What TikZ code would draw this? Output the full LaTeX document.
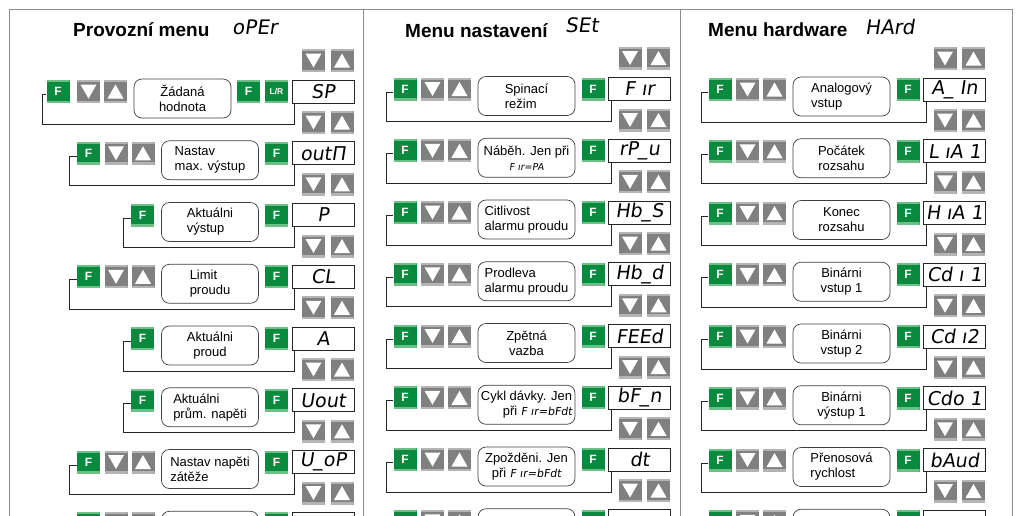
\documentclass[tikz,border=0pt]{standalone}
\usepackage{fontspec}
\setmainfont{Liberation Sans}
\newfontfamily\segfont[FakeSlant=0.15]{DejaVu Sans}
\definecolor{fgreen}{RGB}{10,138,62}
\definecolor{fgreenl}{RGB}{110,190,135}
\definecolor{bgray}{RGB}{128,128,128}
\definecolor{bgrayl}{RGB}{180,180,180}
\newcommand\segsm{\segfont\fontsize{9.5}{15}\selectfont}
\newcommand\segsmb{\segfont\fontsize{11}{15}\selectfont}
\newcommand\menurowA[6]{%
  \node[fbtn] (#1fl) at ({#2+88.5},#3) {F};
  \node[dnbtn] (#1d) at ({#2+116},#3) {};
  \node[upbtn] (#1u) at ({#2+143},#3) {};
  \node[lbl,#4] (#1l) at ({#2+210},{#3+7}) {#5};
  \node[fbtn] (#1fr) at ({#2+276.5},#3) {F};
  \node[disp] (#1s) at ({#2+323},#3) {#6};
  \draw[conn] ([yshift=-3pt]#1fl.west) -- ++(-7,0) -- ++(0,29.5) -| ([xshift=3pt]#1s.south west);
}
\newcommand\menurowB[6]{%
  \node[fbtn] (#1fl) at ({#2+142.5},#3) {F};
  \node[lbl,#4] (#1l) at ({#2+210},{#3+7}) {#5};
  \node[fbtn] (#1fr) at ({#2+276.5},#3) {F};
  \node[disp] (#1s) at ({#2+323},#3) {#6};
  \draw[conn] ([yshift=-3pt]#1fl.west) -- ++(-7,0) -- ++(0,29.5) -| ([xshift=3pt]#1s.south west);
}
% row cut off by the lower edge: only the tops of its boxes show
\newcommand\menurowcut[3]{%
  \node[fbtn] (#1fl) at ({#2+88.5},#3) {};
  \node[dnbtn] (#1d) at ({#2+116},#3) {};
  \node[upbtn] (#1u) at ({#2+143},#3) {};
  \node[lbl] (#1l) at ({#2+210},{#3+7}) {};
  \node[fbtn] (#1fr) at ({#2+276.5},#3) {};
  \node[disp] (#1s) at ({#2+323},#3) {};
}
\newcommand\btnpair[3]{%
  \node[dnbtn] (#1d) at ({#2+313.5},#3) {};
  \node[upbtn] (#1u) at ({#2+342},#3) {};
}
\begin{document}
\begin{tikzpicture}[x=1pt,y=-1pt,
  btnbase/.style={rectangle, minimum width=23pt, minimum height=23pt, inner sep=0pt},
  fbtn/.style={btnbase, fill=fgreen, text=white, font=\bfseries\fontsize{12}{12}\selectfont,
    path picture={
      \fill[fgreenl] (path picture bounding box.north west) rectangle ([yshift=-2pt]path picture bounding box.north east);
      \fill[fgreenl] (path picture bounding box.south west) rectangle ([yshift=2.5pt]path picture bounding box.south east);}},
  dnbtn/.style={btnbase, fill=bgray,
    path picture={
      \fill[bgrayl] (path picture bounding box.north west) rectangle ([yshift=-2pt]path picture bounding box.north east);
      \fill[bgrayl] (path picture bounding box.south west) rectangle ([yshift=2.5pt]path picture bounding box.south east);
      \fill[white] ([xshift=-8pt,yshift=7pt]path picture bounding box.center) -- ([xshift=8pt,yshift=7pt]path picture bounding box.center) -- ([yshift=-7pt]path picture bounding box.center) -- cycle;}},
  upbtn/.style={btnbase, fill=bgray,
    path picture={
      \fill[bgrayl] (path picture bounding box.north west) rectangle ([yshift=-2pt]path picture bounding box.north east);
      \fill[bgrayl] (path picture bounding box.south west) rectangle ([yshift=2.5pt]path picture bounding box.south east);
      \fill[white] ([xshift=-8pt,yshift=-7pt]path picture bounding box.center) -- ([xshift=8pt,yshift=-7pt]path picture bounding box.center) -- ([yshift=7pt]path picture bounding box.center) -- cycle;}},
  lbl/.style={draw=black!75, line width=0.7pt, rounded corners=8pt, fill=white, minimum width=97pt,
    minimum height=39pt, inner sep=1pt, font=\fontsize{13}{15}\selectfont, align=center},
  disp/.style={draw=black!85, line width=0.8pt, fill=white, minimum width=62pt, minimum height=23pt,
    inner sep=0pt, font=\segfont\fontsize{19}{19}\selectfont},
  conn/.style={draw=black!85, line width=0.8pt},
  panel/.style={draw=black!45, line width=1.6pt},
  title/.style={inner sep=0pt, anchor=base west, font=\bfseries\fontsize{19}{19}\selectfont},
  segtitle/.style={inner sep=0pt, anchor=base west, font=\segfont\fontsize{20}{20}\selectfont}
]
\useasboundingbox (0,0) rectangle (1024,515);
\clip (0,0) rectangle (1024,515);
\fill[white] (0,0) rectangle (1024,515);

% panels
\draw[panel] (9.5,540) -- (9.5,9.5) -- (1012.5,9.5) -- (1012.5,540);
\draw[panel] (363.5,9.5) -- (363.5,540);
\draw[panel] (680.5,9.5) -- (680.5,540);

% titles
\node[title] (t1) at (73,36) {Provozní menu};
\node[segtitle] (s1) at (232,34) {oPEr};
\node[title] (t2) at (405,37) {Menu nastavení};
\node[segtitle] (s2) at (565,32) {SEt};
\node[title] (t3) at (708,36) {Menu hardware};
\node[segtitle] (s3) at (865,34) {HArd};

% ---------- column 1 ----------
\node[fbtn] (c1r1fl) at (58,91.5) {F};
\node[dnbtn] (c1r1d) at (88.5,91.5) {};
\node[upbtn] (c1r1u) at (115.5,91.5) {};
\node[lbl] (c1r1l) at (182.5,98.5) {Žádaná\\hodnota};
\node[fbtn] (c1r1fr) at (248.5,91.5) {F};
\node[fbtn, font=\bfseries\fontsize{8.5}{9}\selectfont] (c1r1lr) at (276.5,91.5) {L/R};
\node[disp] (c1r1s) at (323,91.5) {SP};
\draw[conn] ([yshift=-3pt]c1r1fl.west) -- ++(-4,0) -- ++(0,29.5) -| ([xshift=3pt]c1r1s.south west);

\menurowA{c1r2}{0}{153.25}{align=left}{Nastav\\max. výstup}{outП}
\menurowB{c1r3}{0}{215}{align=left}{Aktuálni\\výstup}{P}
\menurowA{c1r4}{0}{276.75}{align=left}{Limit\\proudu}{CL}
\menurowB{c1r5}{0}{338.5}{}{Aktuálni\\proud}{A}
\menurowB{c1r6}{0}{400.25}{align=left}{Aktuálni\\prům. napěti}{Uout}
\menurowA{c1r7}{0}{462}{align=left}{Nastav napěti\\zátěže}{U\_oP}
\menurowcut{c1r8}{0}{523.75}
\foreach \yy [count=\i] in {60.5,122.5,184.25,246,307.75,369.5,431.25,493}
  {\btnpair{c1p\i}{0}{\yy}}

% ---------- column 2 ----------
\menurowA{c2r1}{316.5}{89}{align=left}{Spinací\\režim}{F ır}
\menurowA{c2r2}{316.5}{150.75}{}{Náběh. Jen při\\{\segsm F ır=PA}}{rP\_u}
\menurowA{c2r3}{316.5}{212.5}{align=left}{Citlivost\\alarmu proudu}{Hb\_S}
\menurowA{c2r4}{316.5}{274.25}{align=left}{Prodleva\\alarmu proudu}{Hb\_d}
\menurowA{c2r5}{316.5}{336}{}{Zpětná\\vazba}{FEEd}
\menurowA{c2r6}{316.5}{397.75}{align=right}{Cykl dávky. Jen\\při {\segsmb F ır=bFdt}}{bF\_n}
\menurowA{c2r7}{316.5}{459.5}{}{Zpožděni. Jen\\při {\segsmb F ır=bFdt}}{dt}
\menurowcut{c2r8}{316.5}{521.25}
\foreach \yy [count=\i] in {58,120,181.75,243.5,305.25,367,428.75,490.5}
  {\btnpair{c2p\i}{316.5}{\yy}}

% ---------- column 3 ----------
\menurowA{c3r1}{631.5}{89.5}{align=left}{Analogový\\vstup}{A\_ In}
\menurowA{c3r2}{631.5}{151.25}{}{Počátek\\rozsahu}{L ıA 1}
\menurowA{c3r3}{631.5}{213}{}{Konec\\rozsahu}{H ıA 1}
\menurowA{c3r4}{631.5}{274.75}{}{Binárni\\vstup 1}{Cd ı 1}
\menurowA{c3r5}{631.5}{336.5}{}{Binárni\\vstup 2}{Cd ı2}
\menurowA{c3r6}{631.5}{398.25}{}{Binárni\\výstup 1}{Cdo 1}
\menurowA{c3r7}{631.5}{460}{align=left}{Přenosová\\rychlost}{bAud}
\menurowcut{c3r8}{631.5}{521.75}
\foreach \yy [count=\i] in {58.5,120.5,182.25,244,305.75,367.5,429.25,491}
  {\btnpair{c3p\i}{631.5}{\yy}}
\end{tikzpicture}
\end{document}
